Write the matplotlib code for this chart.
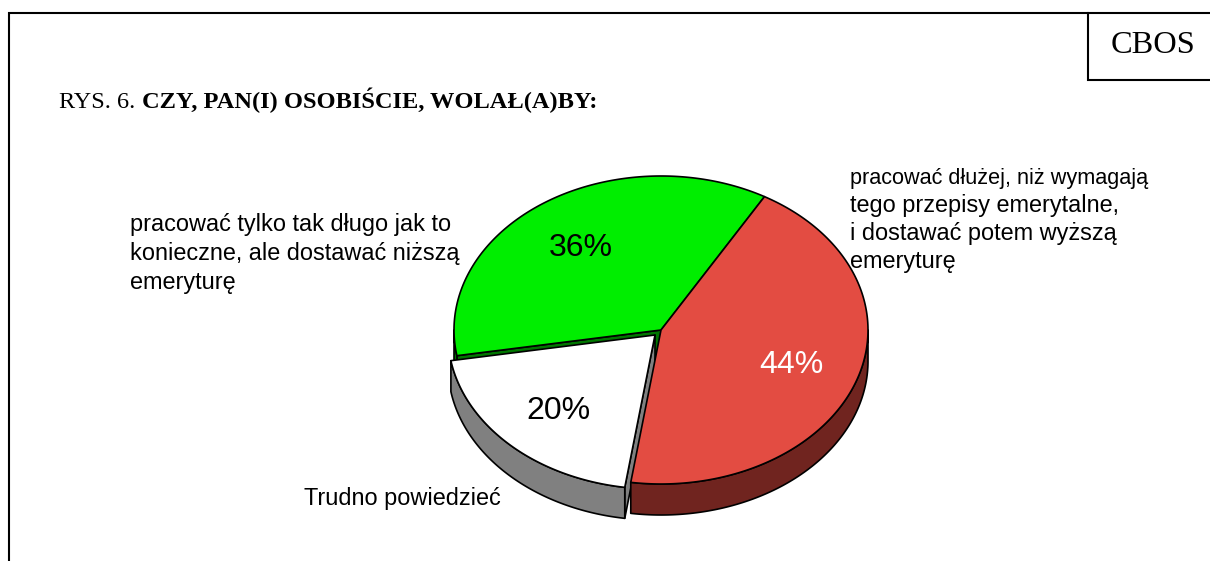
import numpy as np
import matplotlib
matplotlib.use('Agg')
import matplotlib.pyplot as plt

# dane wykresu
values = [44, 20, 36]
pct_labels = ['44%', '20%', '36%']
answers = [
    ['pracować dłużej, niż wymagają', 'tego przepisy emerytalne,', 'i dostawać potem wyższą', 'emeryturę'],
    ['Trudno powiedzieć'],
    ['pracować tylko tak długo jak to', 'konieczne, ale dostawać niższą', 'emeryturę'],
]
top_colors = ['#E34C42', '#FFFFFF', '#00EE00']
side_colors = ['#70241F', '#808080', '#007700']
pct_colors = ['white', 'black', 'black']

# geometria pseudo-3D (piksele obrazka)
centers = [(661, 330), (655, 335), (661, 330)]
rx, ry, depth = 207, 154, 31
start_angle = 30
pct_pos = [(791, 365), (558, 411), (581, 248)]
ans_pos = [(850, 184), (304, 505), (130, 231)]
ans_step = [28, 0, 29]
line_w = 1.2

plt.rcParams['font.family'] = ['Liberation Sans', 'DejaVu Sans']
fig = plt.figure(figsize=(12.10, 5.61), dpi=100)
ax = fig.add_axes([0, 0, 1, 1])
ax.set_xlim(0, 1210)
ax.set_ylim(561, 0)
ax.axis('off')


def rim(c, t):
    # punkt na elipsie, kat liczony od gory zgodnie z zegarem
    r = np.radians(t)
    return c[0] + rx * np.sin(r), c[1] - ry * np.cos(r)


def arc(c, t0, t1):
    t = np.linspace(t0, t1, 200)
    x, y = rim(c, t)
    return x, y


def draw_slice(i, t0, t1):
    c = centers[i]
    kw = dict(edgecolor='black', linewidth=line_w, joinstyle='round')

    # scianka przy krawedzi poczatkowej (widoczna dla bialego i zielonego)
    if i in (1, 2):
        ex, ey = rim(c, t0)
        ax.fill([c[0], ex, ex, c[0]], [c[1], ey, ey + depth, c[1] + depth],
                facecolor=side_colors[i], **kw)

    # scianka zewnetrzna - tylko dolna polowa elipsy
    a0, a1 = max(t0, 90), min(t1, 270)
    if a1 > a0:
        x, y = arc(c, a0, a1)
        ax.fill(np.r_[x, x[::-1]], np.r_[y, y[::-1] + depth],
                facecolor=side_colors[i], **kw)

    # wierzch
    x, y = arc(c, t0, t1)
    ax.fill(np.r_[c[0], x], np.r_[c[1], y], facecolor=top_colors[i], **kw)


# kolejnosc rysowania: zielony, bialy, czerwony
angles = start_angle + np.r_[0, np.cumsum(values)] * 3.6
for i in [2, 1, 0]:
    draw_slice(i, angles[i], angles[i + 1])

for i in range(len(values)):
    ax.text(pct_pos[i][0], pct_pos[i][1], pct_labels[i], fontsize=23,
            color=pct_colors[i], ha='center', va='center')
    for k, line in enumerate(answers[i]):
        # pierwszy wiersz prawej etykiety jest w oryginale wezszy
        size = 15.6 if (i == 0 and k == 0) else 16.9
        ax.text(ans_pos[i][0], ans_pos[i][1] + k * ans_step[i], line, fontsize=size,
                ha='left', va='baseline')

# ramka
ax.plot([9, 9, 1210], [561, 13, 13], color='black', lw=1.5, solid_joinstyle='miter')
ax.plot([1088, 1088, 1210], [13, 80, 80], color='black', lw=1.5, solid_joinstyle='miter')
ax.text(1153, 45, 'CBOS', family='Liberation Serif', fontsize=23.3, ha='center', va='center')

# tytul
ax.text(59, 108, 'RYS. 6.', family='Liberation Serif', fontsize=17.5, ha='left', va='baseline')
ax.text(142, 108, 'CZY, PAN(I) OSOBIŚCIE, WOLAŁ(A)BY:', family='Liberation Serif',
        fontsize=17.55, fontweight='bold', ha='left', va='baseline')

fig.savefig('out.png', dpi=100)
